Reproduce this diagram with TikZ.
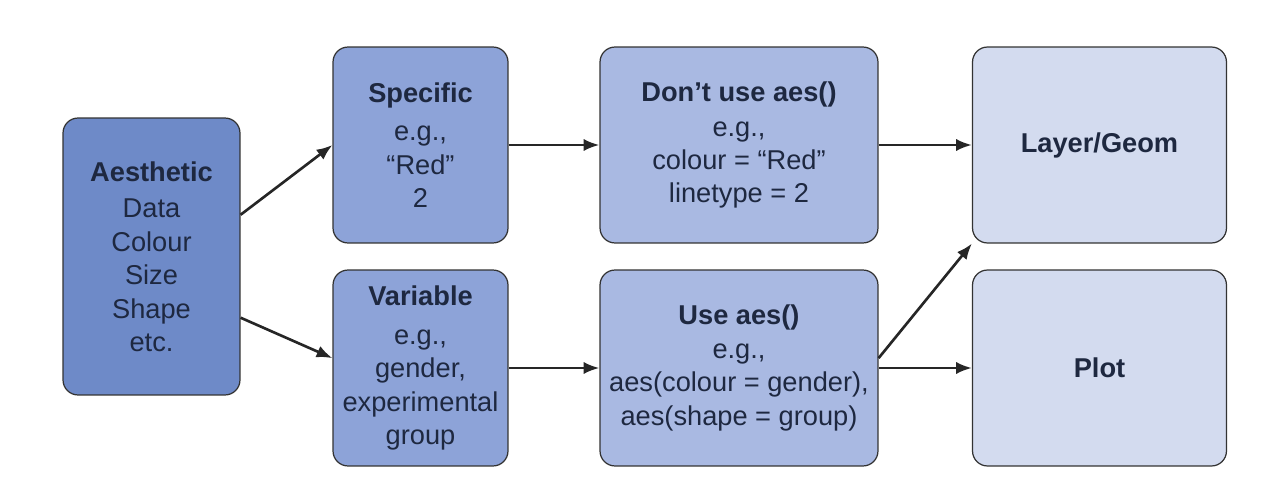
\documentclass[tikz,border=0pt]{standalone}
\usepackage{fontspec}
\setmainfont{Liberation Sans}
\usepackage{tikz}
\usetikzlibrary{%
  arrows.meta,%
  calc%
}
\definecolor{aescol}{HTML}{6E8AC8}
\definecolor{midcol}{HTML}{8DA3D8}
\definecolor{usecol}{HTML}{A9B9E2}
\definecolor{outcol}{HTML}{D3DBEF}
\definecolor{txtcol}{HTML}{1E2840}
\tikzset{>={Latex[length=9pt,width=7pt]}}
\tikzset{
  box/.style={draw=black!80,line width=0.7pt,rounded corners=0.3cm,
    align=center,text=txtcol,inner sep=2pt,
    font=\fontsize{15.5}{19}\selectfont},
  flow/.style={->,line width=1.5pt,draw=black!85}
}

\begin{document}
\begin{tikzpicture}[x=0.02cm,y=-0.02cm]
        \useasboundingbox (0,0) rectangle (1272,500);
        \node[box,fill=aescol,minimum width=3.54cm,minimum height=5.54cm]
        (aes) at (151.5,256.5) {\textbf{Aesthetic}\\[2pt] Data\\ Colour\\ Size\\ Shape\\ etc.};
        \node[box,fill=midcol,minimum width=3.5cm,minimum height=3.92cm]
        (spec) at (420.5,145) {\textbf{Specific}\\[3pt] e.g.,\\ ``Red''\\ 2};
        \node[box,fill=midcol,minimum width=3.5cm,minimum height=3.92cm]
        (var) at (420.5,368) {\textbf{Variable}\\[3pt] e.g.,\\ gender,\\ experimental\\ group};
        \node[box,fill=usecol,minimum width=5.56cm,minimum height=3.92cm]
        (dont) at (739,145) {\textbf{Don’t use aes()}\\[1pt] e.g.,\\ colour = ``Red''\\ linetype = 2};
        \node[box,fill=usecol,minimum width=5.56cm,minimum height=3.92cm]
        (use) at (739,368) {\textbf{Use aes()}\\[0pt] e.g.,\\ aes(colour = gender),\\ aes(shape = group)};
        \node[box,fill=outcol,minimum width=5.08cm,minimum height=3.92cm]
        (layer) at (1099.5,145) {\textbf{Layer/Geom}};
        \node[box,fill=outcol,minimum width=5.08cm,minimum height=3.92cm]
        (plot) at (1099.5,368) {\textbf{Plot}};
        % arrows
        \draw[flow] ($(aes.north east)!0.35!(aes.south east)$) -- (spec.west);
        \draw[flow] ($(aes.north east)!0.72!(aes.south east)$) -- ($(var.north west)!0.45!(var.south west)$);
        \draw[flow] (spec.east) -- (dont.west);
        \draw[flow] (var.east) -- (use.west);
        \draw[flow] (dont.east) -- (layer.west);
        \draw[flow] ($(use.north east)!0.45!(use.south east)$) -- (layer.south west);
        \draw[flow] (use.east) -- (plot.west);
      \end{tikzpicture}
\end{document}
